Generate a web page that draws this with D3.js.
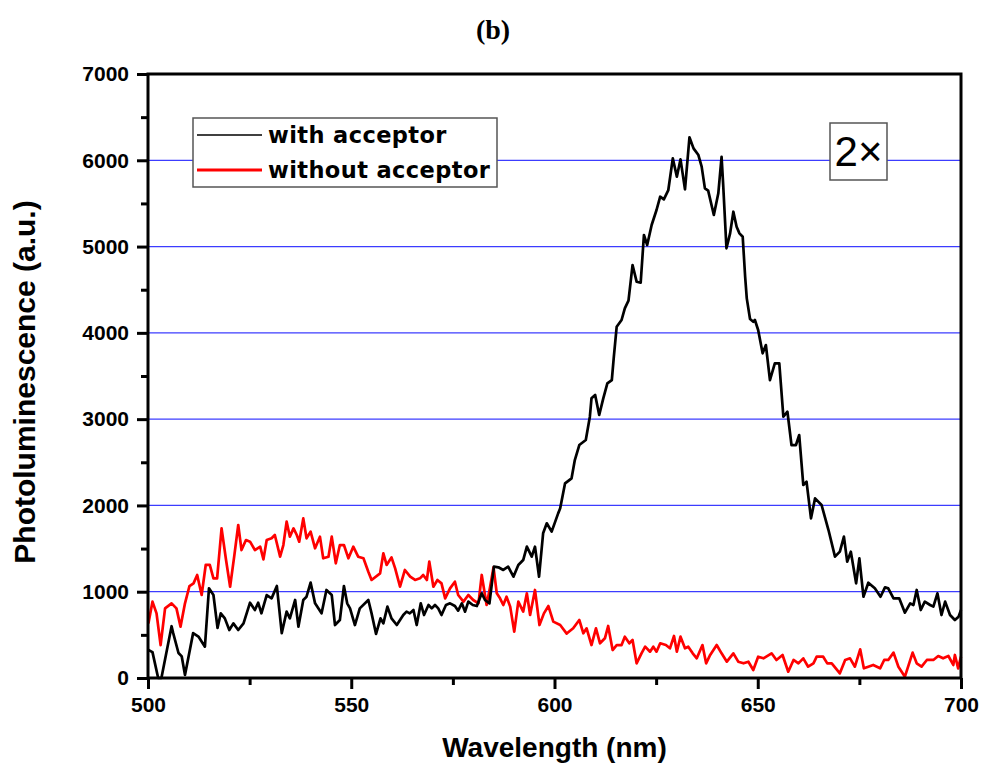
<!DOCTYPE html>
<html>
<head>
<meta charset="utf-8">
<script src="https://cdn.jsdelivr.net/npm/d3@7"></script>
<style>
  body { margin: 0; background: #fff; }
  svg { display: block; }
</style>
</head>
<body>
<svg id="chart"></svg>
<script>
// Readings: [wavelength (nm), photoluminescence (a.u.)]
const withAcceptor = [
  [500.1,324],[501.1,300],[502.5,0],[503.3,0],[505.8,600],[506.2,520],[507.5,290],[508.3,250],[509.1,35],
  [511.1,520],[512.4,480],[514.0,363],[515.0,1040],[516.1,962],[517.1,580],[517.9,750],[518.9,691],
  [520.0,556],[521.0,633],[522.2,556],[523.5,633],[525.1,873],[526.3,788],[527.1,873],[527.9,750],
  [529.2,960],[530.4,923],[531.7,1066],[532.9,520],[534.1,769],[534.9,691],[536.2,904],[537.0,595],
  [538.2,904],[539.0,942],[540.0,1105],[541.1,865],[542.7,750],[543.9,1020],[545.2,962],[546.0,614],
  [547.2,672],[548.2,1066],[549.0,865],[549.7,807],[550.9,614],[552.1,807],[554.2,904],[555.0,749],
  [556.1,510],[557.2,691],[557.9,633],[558.9,827],[559.9,691],[561.2,614],[562.8,730],[563.6,769],
  [564.4,749],[565.3,788],[566.1,614],[567.1,865],[567.9,730],[569.0,846],[569.8,807],[570.6,846],
  [571.4,807],[572.2,730],[573.3,846],[574.3,865],[575.5,834],[576.3,780],[577.2,865],[578.0,769],
  [578.8,885],[579.9,846],[580.9,834],[582.1,981],[582.9,904],[584.0,865],[585.1,1290],[586.2,1283],
  [587.4,1252],[588.6,1290],[589.9,1174],[591.1,1310],[592.3,1367],[593.2,1522],[594.4,1406],
  [595.2,1522],[596.2,1174],[597.2,1677],[598.1,1793],[599.3,1696],[600.9,1908],[601.4,1966],
  [602.6,2256],[604.2,2314],[605.0,2526],[606.1,2700],[607.7,2758],[608.7,3028],[609.1,3241],
  [610.0,3280],[611.0,3048],[612.0,3241],[613.0,3415],[614.1,3453],[614.6,3724],[615.3,4071],
  [616.5,4149],[617.3,4284],[618.2,4373],[619.2,4786],[620.2,4593],[621.2,4581],[622.0,5134],
  [622.8,5018],[623.9,5250],[625.1,5424],[626.0,5578],[626.9,5547],[628.0,5655],[629.1,6022],
  [630.1,5810],[631.0,6011],[632.1,5663],[633.2,6266],[634.2,6138],[635.4,6061],[636.2,5926],
  [637.0,5675],[637.8,5648],[639.2,5366],[640.3,5617],[641.1,6041],[641.5,5713],[642.3,4980],
  [643.2,5153],[644.0,5404],[644.8,5230],[645.5,5153],[646.3,5114],[646.9,4650],[647.3,4400],
  [648.1,4160],[648.9,4129],[649.3,4149],[650.1,4033],[651.2,3763],[652.0,3859],[653.0,3453],
  [654.2,3647],[655.3,3647],[656.3,3028],[657.3,3086],[658.3,2700],[659.4,2700],[660.2,2816],
  [661.2,2237],[662.0,2275],[663.1,1851],[664.1,2082],[665.7,2005],[667.4,1715],[669.0,1406],
  [670.2,1464],[671.2,1638],[672.0,1348],[672.9,1464],[674.2,1097],[675.0,1387],[676.0,942],
  [677.2,1104],[678.8,1039],[680.2,942],[681.3,1051],[682.1,1039],[683.4,923],[684.8,923],
  [686.2,757],[687.5,865],[688.3,846],[689.1,1020],[690.1,788],[691.1,885],[692.4,846],[693.2,827],
  [694.2,981],[695.2,730],[696.1,885],[697.3,730],[698.5,672],[699.4,711],[700.0,788]
];

const withoutAcceptor = [
  [500.1,633],[501.1,885],[502.1,749],[503.1,382],[504.2,807],[505.8,865],[507.0,807],[508.0,595],
  [509.1,865],[510.2,1066],[511.2,1097],[512.1,1194],[513.2,962],[514.2,1310],[515.2,1310],
  [516.1,1155],[517.0,1155],[518.1,1734],[519.2,1367],[520.2,1058],[521.2,1406],[522.2,1773],
  [523.0,1483],[524.1,1599],[525.1,1580],[526.3,1483],[527.6,1522],[528.4,1375],[529.2,1599],
  [530.4,1619],[531.2,1657],[532.5,1406],[533.3,1541],[534.1,1812],[534.9,1638],[535.8,1734],
  [536.6,1657],[537.2,1580],[538.2,1850],[539.0,1619],[540.0,1696],[541.1,1503],[542.3,1638],
  [543.1,1387],[544.4,1406],[545.2,1638],[546.2,1329],[547.2,1541],[548.2,1541],[549.3,1387],
  [550.5,1522],[551.7,1406],[553.0,1387],[554.2,1232],[555.0,1136],[557.1,1213],[557.9,1445],
  [558.7,1310],[559.9,1398],[560.8,1271],[562.0,1058],[563.2,1252],[564.5,1174],[565.7,1136],
  [566.9,1155],[567.7,1194],[568.6,1136],[569.2,1348],[570.2,1058],[571.2,1136],[572.2,1097],
  [573.1,923],[574.3,1039],[575.5,1116],[576.3,962],[577.6,885],[578.8,962],[580.0,904],[581.3,865],
  [582.1,1194],[583.3,846],[584.1,1039],[585.0,1283],[585.8,981],[586.6,923],[587.4,846],[588.2,942],
  [589.1,827],[590.1,537],[591.1,885],[592.3,769],[593.2,981],[594.0,730],[595.2,1020],[596.3,614],
  [597.4,749],[598.5,834],[599.7,653],[601.4,614],[603.0,515],[604.6,576],[606.1,672],[607.1,518],
  [607.9,576],[609.1,382],[610.2,576],[611.2,402],[612.4,460],[613.2,603],[614.3,324],[615.3,382],
  [616.5,382],[617.3,479],[618.4,402],[619.2,440],[620.2,170],[621.4,286],[622.3,363],[623.5,305],
  [624.3,363],[625.1,305],[626.0,402],[627.4,382],[628.4,344],[629.4,487],[630.1,305],[631.0,479],
  [632.1,344],[632.9,363],[634.0,286],[635.0,228],[636.4,382],[637.3,170],[638.3,267],[639.9,382],
  [641.1,286],[642.4,189],[644.0,286],[645.2,189],[646.5,170],[647.7,189],[648.9,93],[650.1,247],
  [651.4,228],[653.4,286],[654.6,209],[656.1,267],[657.5,73],[658.8,209],[660.0,170],[661.2,228],
  [662.4,131],[663.7,170],[664.5,247],[666.1,247],[667.1,170],[668.2,170],[670.2,54],[671.5,209],
  [672.7,228],[673.9,131],[675.2,332],[676.1,112],[677.2,131],[678.4,151],[680.1,112],[681.1,209],
  [682.1,209],[683.4,294],[684.6,131],[686.2,15],[688.1,294],[689.1,170],[690.3,131],[691.6,209],
  [693.2,209],[694.4,255],[695.6,228],[696.9,255],[698.1,151],[698.5,267],[699.3,112],[700.0,247]
];

const seriesNames = ["with acceptor", "without acceptor"];
const xTicks = [500, 550, 600, 650, 700];
const yTicks = [0, 1000, 2000, 3000, 4000, 5000, 6000, 7000];
const gridValues = [1000, 2000, 3000, 4000, 5000, 6000];

const width = 986, height = 776;
const margin = {top: 74, right: 25, bottom: 98, left: 148};
const sans = "'Liberation Sans', Arial, sans-serif";

const svg = d3.select("#chart")
    .attr("width", width)
    .attr("height", height);

const x = d3.scaleLinear().domain([500, 700]).range([margin.left, width - margin.right]);
const y = d3.scaleLinear().domain([0, 7000]).range([height - margin.bottom, margin.top]);

// horizontal blue grid
svg.append("g")
    .selectAll("line")
    .data(gridValues)
    .join("line")
    .attr("x1", x(500)).attr("x2", x(700))
    .attr("y1", d => y(d)).attr("y2", d => y(d))
    .attr("stroke", "#3c3cff")
    .attr("stroke-width", 1.3);

// curves
const line = d3.line().x(d => x(d[0])).y(d => y(d[1]));
svg.append("path")
    .datum(withoutAcceptor)
    .attr("d", line)
    .attr("fill", "none")
    .attr("stroke", "#ff0000")
    .attr("stroke-width", 2.7)
    .attr("stroke-linejoin", "round");
svg.append("path")
    .datum(withAcceptor)
    .attr("d", line)
    .attr("fill", "none")
    .attr("stroke", "#000")
    .attr("stroke-width", 2.7)
    .attr("stroke-linejoin", "round");

// x axis with minor ticks
const xAxis = svg.append("g").attr("transform", `translate(0,${y(0)})`);
xAxis.call(d3.axisBottom(x).tickValues(d3.range(525, 700, 50)).tickSize(7).tickFormat(""));
xAxis.call(g => g.append("g").call(d3.axisBottom(x).tickValues(xTicks).tickSize(11)
    .tickPadding(8).tickFormat(d3.format("d"))));
// y axis with minor ticks
const yAxis = svg.append("g").attr("transform", `translate(${x(500)},0)`);
yAxis.call(d3.axisLeft(y).tickValues(d3.range(500, 7000, 1000)).tickSize(7).tickFormat(""));
yAxis.call(g => g.append("g").call(d3.axisLeft(y).tickValues(yTicks).tickSize(11)
    .tickPadding(8).tickFormat(d3.format("d"))));

svg.selectAll(".domain").remove();
svg.selectAll(".tick line").attr("stroke", "#000").attr("stroke-width", 3);
svg.selectAll(".tick text")
    .attr("fill", "#000")
    .style("font-family", sans)
    .style("font-weight", "bold")
    .style("font-size", "21px");

// frame
svg.append("rect")
    .attr("x", x(500)).attr("y", y(7000))
    .attr("width", x(700) - x(500)).attr("height", y(0) - y(7000))
    .attr("fill", "none")
    .attr("stroke", "#000")
    .attr("stroke-width", 3);

// axis titles
svg.append("text")
    .attr("x", (x(500) + x(700)) / 2).attr("y", 757)
    .attr("text-anchor", "middle")
    .style("font-family", sans).style("font-weight", "bold").style("font-size", "28px")
    .text("Wavelength (nm)");
svg.append("text")
    .attr("transform", `translate(35,${(y(0) + y(7000)) / 2 + 6}) rotate(-90)`)
    .attr("text-anchor", "middle")
    .style("font-family", sans).style("font-weight", "bold").style("font-size", "30px")
    .text("Photoluminescence (a.u.)");

// panel label
svg.append("text")
    .attr("x", 493).attr("y", 39)
    .attr("text-anchor", "middle")
    .style("font-family", "'Liberation Serif', 'Times New Roman', serif")
    .style("font-weight", "bold").style("font-size", "28px")
    .text("(b)");

// legend
const legend = svg.append("g").attr("transform", "translate(193,118)");
legend.append("rect")
    .attr("width", 304).attr("height", 69)
    .attr("fill", "#fff").attr("stroke", "#555").attr("stroke-width", 1.5);
const legendColors = ["#000", "#ff0000"];
const legendWidths = [1.5, 3];
const rows = legend.selectAll("g.row")
    .data(seriesNames)
    .join("g")
    .attr("class", "row")
    .attr("transform", (d, i) => `translate(0,${17 + i * 35})`);
rows.append("line")
    .attr("x1", 4).attr("x2", 69)
    .attr("stroke", (d, i) => legendColors[i])
    .attr("stroke-width", (d, i) => legendWidths[i]);
rows.append("text")
    .attr("x", 75).attr("y", 8)
    .style("font-family", "'DejaVu Sans', Verdana, sans-serif")
    .style("font-weight", "bold").style("font-size", "22.5px")
    .style("letter-spacing", "0.4px")
    .text(d => d);

// 2x box
const mult = svg.append("g").attr("transform", "translate(830,123)");
mult.append("rect")
    .attr("width", 57).attr("height", 57)
    .attr("fill", "#fff").attr("stroke", "#555").attr("stroke-width", 1.5);
mult.append("text")
    .attr("x", 28.5).attr("y", 43)
    .attr("text-anchor", "middle")
    .style("font-family", sans).style("font-size", "42px")
    .text("2×");
</script>
</body>
</html>
